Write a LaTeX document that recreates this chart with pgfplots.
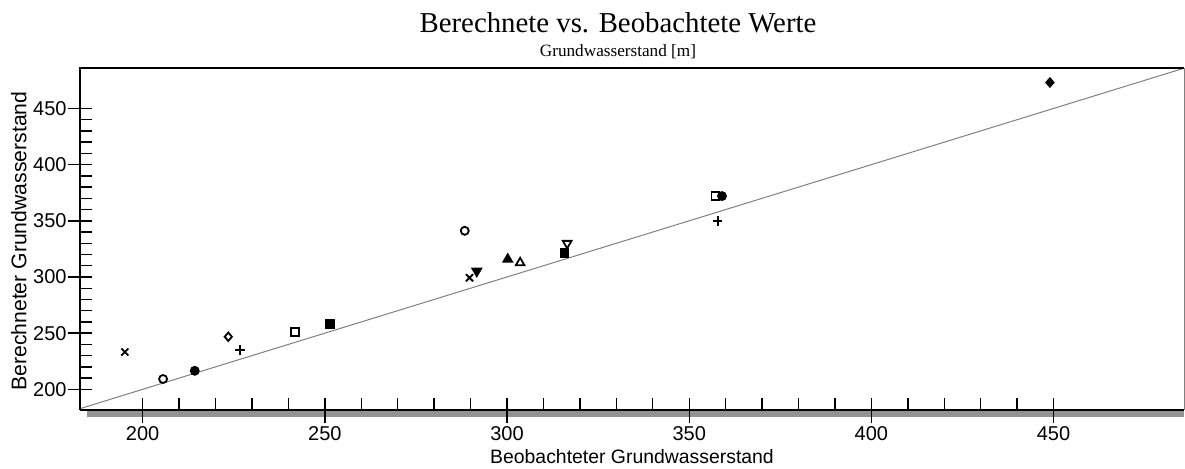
\documentclass[border=0pt]{standalone}
\usepackage{pgfplots}
\pgfplotsset{compat=1.18}
\usepackage{fontspec}
\setmainfont{Liberation Sans}
\newfontfamily\seriffont{Liberation Serif}
\begin{document}
\begin{tikzpicture}
\begin{axis}[
  at={(0,0)}, anchor=south west,
  scale only axis, width=552pt, height=171pt,
  xmin=182.8, xmax=485.8, ymin=181.6, ymax=486,
  clip=false,
  axis line style={draw=none},
  xtick={200,250,300,350,400,450},
  ytick={200,250,300,350,400,450},
  minor x tick num=4, minor y tick num=4,
  xtick pos=bottom, ytick pos=left,
  tick align=inside,
  major tick length=6pt, minor tick length=6pt,
  tick style={black, line width=0.7pt},
  /pgf/number format/assume math mode=true,
  ticklabel style={font=\fontsize{10}{12}\selectfont},
  xticklabel style={inner sep=0pt, anchor=north, yshift=-8pt},
  yticklabel style={inner sep=0pt, anchor=east, xshift=-6.5pt},
  xlabel={Beobachteter Grundwasserstand},
  ylabel={Berechneter Grundwasserstand},
  xlabel style={font=\fontsize{9.7}{11}\selectfont, at={([yshift=-26.5pt]axis description cs:0.5,0)}, anchor=base, inner sep=0pt},
  ylabel style={font=\fontsize{10.6}{12}\selectfont, at={([xshift=-26.75pt]axis description cs:0,0.494)}, anchor=base, inner sep=0pt},
  every axis plot/.append style={black, line width=0.9pt, mark size=2pt, only marks},
]
\addplot[gray, line width=0.5pt, no marks, sharp plot] coordinates {(182.8,182.8) (485.8,485.8)};
\addplot[mark=x, mark size=2.5pt] coordinates {(195.1,233.2)};
\addplot[mark=o, mark options={fill=white}] coordinates {(205.6,209.2)};
\addplot[mark=*] coordinates {(214.3,216.5)};
\addplot[mark=diamond, mark size=2.1pt, mark options={fill=white, xscale=1.15}] coordinates {(223.5,246.8)};
\addplot[mark=+, mark size=2.4pt] coordinates {(226.7,235.0)};
\addplot[mark=square, mark options={fill=white}] coordinates {(241.8,251.2)};
\addplot[mark=square*] coordinates {(251.4,257.8)};
\addplot[mark=o, mark options={fill=white}] coordinates {(288.4,341.1)};
\addplot[mark=x, mark size=2.5pt] coordinates {(289.7,299.3)};
\addplot[mark=triangle*, mark size=2.5pt, mark options={rotate=180}] coordinates {(291.7,305.2)};
\addplot[mark=triangle*, mark size=2.5pt] coordinates {(300.2,315.7)};
\addplot[mark=triangle, mark size=2.5pt, mark options={fill=white}] coordinates {(303.6,312.6)};
\addplot[mark=square*] coordinates {(315.8,321.0)};
\addplot[mark=triangle, mark size=2.5pt, mark options={rotate=180, fill=white}] coordinates {(316.5,329.9)};
\addplot[mark=*] coordinates {(359.0,372.0)};
\addplot[mark=square, mark options={fill=white}] coordinates {(357.2,372.0)};
\addplot[mark=+, mark size=2.4pt] coordinates {(357.8,349.7)};
\addplot[mark=diamond*, mark size=2.1pt, mark options={xscale=1.15}] coordinates {(449.0,473.1)};
% frame
\draw[gray!85, line width=3.2pt] ([yshift=-1.95pt]axis description cs:0.006,0) -- ([yshift=-1.95pt]axis description cs:1,0);
\draw[black, line width=0.8pt] (axis description cs:0,0) -- (axis description cs:1,0);
\draw[gray, line width=0.5pt] (axis description cs:1,0) -- (axis description cs:1,1);
\draw[black, line width=0.75pt] (axis description cs:0,0) -- (axis description cs:0,1) -- (axis description cs:1,1);
% outer halves of major ticks
\pgfplotsinvokeforeach{200,250,300,350,400,450}{
  \draw[black, line width=0.7pt] (axis cs:#1,181.6) -- ([yshift=-6.5pt]axis cs:#1,181.6);
  \draw[black, line width=0.7pt] (axis cs:182.8,#1) -- ([xshift=-5.8pt]axis cs:182.8,#1);
}
% titles
\node[anchor=base, font=\seriffont\fontsize{14.4}{17}\selectfont] at ([yshift=18pt]axis description cs:0.4873,1) {Berechnete vs. Beobachtete Werte};
\node[anchor=base, font=\seriffont\fontsize{8.6}{10}\selectfont] at ([yshift=6pt]axis description cs:0.4873,1) {Grundwasserstand [m]};
\end{axis}
\pgfresetboundingbox
\path[use as bounding box] (-40pt,-29pt) rectangle (552.5pt,205pt);
\end{tikzpicture}
\end{document}
